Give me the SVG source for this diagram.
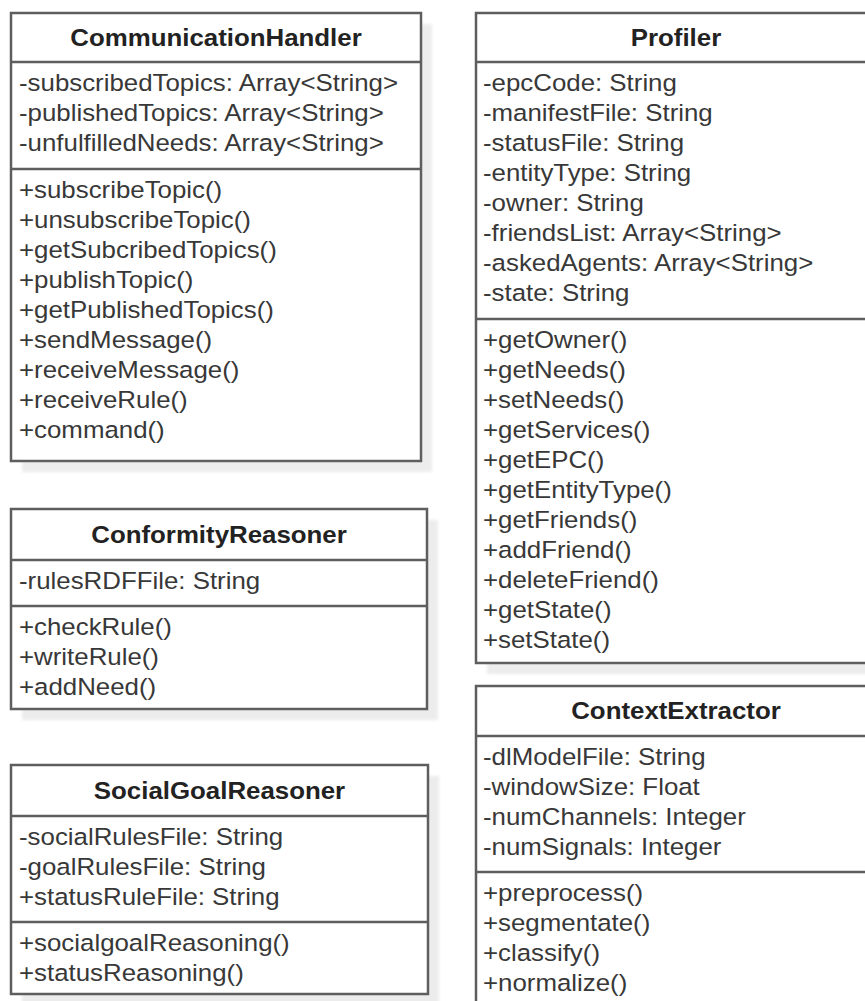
<svg xmlns="http://www.w3.org/2000/svg" width="865" height="1001" viewBox="0 0 865 1001">
  <style>
    .box { fill: #ffffff; stroke: #5e5e5e; stroke-width: 2.5; }
    .div { stroke: #5e5e5e; stroke-width: 2.5; }
    .shadow { fill: #ececec; filter: url(#soft); }
    .title { font-family: "Liberation Sans", Arial, sans-serif; font-size: 23.5px; font-weight: bold; fill: #222222; text-anchor: middle; }
    .m { font-family: "Liberation Sans", Arial, sans-serif; font-size: 23.5px; fill: #383838; }
  </style>
  <defs>
    <filter id="soft" x="-5%" y="-5%" width="110%" height="110%">
      <feGaussianBlur stdDeviation="1.5"/>
    </filter>
  </defs>
  <rect width="865" height="1001" fill="#ffffff"/>

  <!-- CommunicationHandler -->
  <g id="communication-handler">
    <rect class="shadow" x="22" y="24" width="410" height="448"/>
    <rect class="box" x="11" y="13" width="410" height="448"/>
    <line class="div" x1="11" y1="62" x2="421" y2="62"/>
    <line class="div" x1="11" y1="169" x2="421" y2="169"/>
    <g transform="translate(216 0) scale(1.1 1)">
      <text class="title" y="46">CommunicationHandler</text>
    </g>
    <g transform="translate(19 0) scale(1.1 1)">
      <text class="m" y="91">-subscribedTopics: Array&lt;String&gt;</text>
      <text class="m" y="121">-publishedTopics: Array&lt;String&gt;</text>
      <text class="m" y="151">-unfulfilledNeeds: Array&lt;String&gt;</text>
      <text class="m" y="198">+subscribeTopic()</text>
      <text class="m" y="228">+unsubscribeTopic()</text>
      <text class="m" y="258">+getSubcribedTopics()</text>
      <text class="m" y="288">+publishTopic()</text>
      <text class="m" y="318">+getPublishedTopics()</text>
      <text class="m" y="348">+sendMessage()</text>
      <text class="m" y="378">+receiveMessage()</text>
      <text class="m" y="408">+receiveRule()</text>
      <text class="m" y="438">+command()</text>
    </g>
  </g>

  <!-- ConformityReasoner -->
  <g id="conformity-reasoner">
    <rect class="shadow" x="22" y="520" width="416" height="200"/>
    <rect class="box" x="11" y="509" width="416" height="200"/>
    <line class="div" x1="11" y1="560" x2="427" y2="560"/>
    <line class="div" x1="11" y1="606" x2="427" y2="606"/>
    <g transform="translate(219 0) scale(1.1 1)">
      <text class="title" y="543">ConformityReasoner</text>
    </g>
    <g transform="translate(19 0) scale(1.1 1)">
      <text class="m" y="589">-rulesRDFFile: String</text>
      <text class="m" y="635">+checkRule()</text>
      <text class="m" y="665">+writeRule()</text>
      <text class="m" y="695">+addNeed()</text>
    </g>
  </g>

  <!-- SocialGoalReasoner -->
  <g id="social-goal-reasoner">
    <rect class="shadow" x="22" y="776" width="417" height="229"/>
    <rect class="box" x="11" y="765" width="417" height="229"/>
    <line class="div" x1="11" y1="816" x2="428" y2="816"/>
    <line class="div" x1="11" y1="922" x2="428" y2="922"/>
    <g transform="translate(219.5 0) scale(1.1 1)">
      <text class="title" y="799">SocialGoalReasoner</text>
    </g>
    <g transform="translate(19 0) scale(1.1 1)">
      <text class="m" y="845">-socialRulesFile: String</text>
      <text class="m" y="875">-goalRulesFile: String</text>
      <text class="m" y="905">+statusRuleFile: String</text>
      <text class="m" y="951">+socialgoalReasoning()</text>
      <text class="m" y="981">+statusReasoning()</text>
    </g>
  </g>

  <!-- Profiler -->
  <g id="profiler">
    <rect class="shadow" x="487" y="24" width="400" height="650"/>
    <rect class="box" x="476" y="13" width="400" height="650"/>
    <line class="div" x1="476" y1="62" x2="876" y2="62"/>
    <line class="div" x1="476" y1="319" x2="876" y2="319"/>
    <g transform="translate(676 0) scale(1.1 1)">
      <text class="title" y="46">Profiler</text>
    </g>
    <g transform="translate(483 0) scale(1.1 1)">
      <text class="m" y="91">-epcCode: String</text>
      <text class="m" y="121">-manifestFile: String</text>
      <text class="m" y="151">-statusFile: String</text>
      <text class="m" y="181">-entityType: String</text>
      <text class="m" y="211">-owner: String</text>
      <text class="m" y="241">-friendsList: Array&lt;String&gt;</text>
      <text class="m" y="271">-askedAgents: Array&lt;String&gt;</text>
      <text class="m" y="301">-state: String</text>
      <text class="m" y="348">+getOwner()</text>
      <text class="m" y="378">+getNeeds()</text>
      <text class="m" y="408">+setNeeds()</text>
      <text class="m" y="438">+getServices()</text>
      <text class="m" y="468">+getEPC()</text>
      <text class="m" y="498">+getEntityType()</text>
      <text class="m" y="528">+getFriends()</text>
      <text class="m" y="558">+addFriend()</text>
      <text class="m" y="588">+deleteFriend()</text>
      <text class="m" y="618">+getState()</text>
      <text class="m" y="648">+setState()</text>
    </g>
  </g>

  <!-- ContextExtractor -->
  <g id="context-extractor">
    <rect class="shadow" x="487" y="697" width="400" height="330"/>
    <rect class="box" x="476" y="686" width="400" height="330"/>
    <line class="div" x1="476" y1="736" x2="876" y2="736"/>
    <line class="div" x1="476" y1="872" x2="876" y2="872"/>
    <g transform="translate(676 0) scale(1.1 1)">
      <text class="title" y="719.5">ContextExtractor</text>
    </g>
    <g transform="translate(483 0) scale(1.1 1)">
      <text class="m" y="765">-dlModelFile: String</text>
      <text class="m" y="795">-windowSize: Float</text>
      <text class="m" y="825">-numChannels: Integer</text>
      <text class="m" y="855">-numSignals: Integer</text>
      <text class="m" y="901">+preprocess()</text>
      <text class="m" y="931">+segmentate()</text>
      <text class="m" y="961">+classify()</text>
      <text class="m" y="991">+normalize()</text>
    </g>
  </g>

  <!-- connectors: none drawn in this class listing -->
  <g id="connectors"/>
</svg>
